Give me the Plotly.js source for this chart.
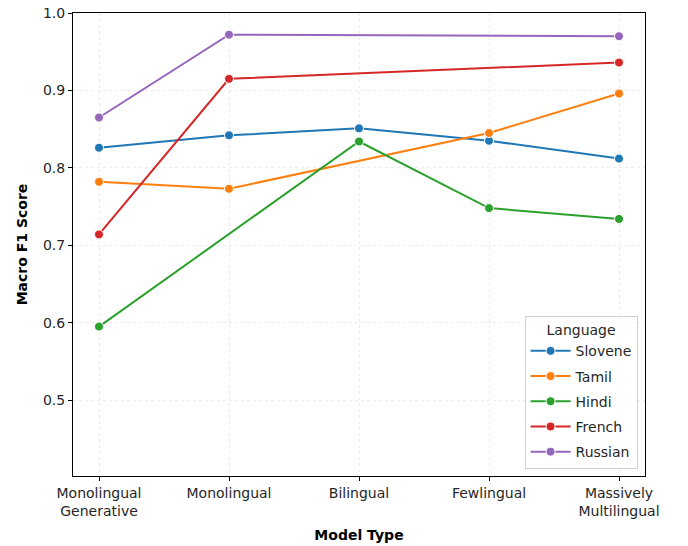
<!DOCTYPE html>
<html>
<head>
<meta charset="utf-8">
<script src="https://cdn.plot.ly/plotly-3.0.1.min.js"></script>
<style>html,body{margin:0;padding:0;background:#fff;}#chart{width:688px;height:546px;}</style>
</head>
<body>
<div id="chart"></div>
<script>
const categories = ["Monolingual Generative", "Monolingual", "Bilingual", "Fewlingual", "Massively Multilingual"];
const tickLabels = ["Monolingual<br>Generative", "Monolingual", "Bilingual", "Fewlingual", "Massively<br>Multilingual"];
const languages = ["Slovene", "Tamil", "Hindi", "French", "Russian"];
const slovene = [0.826, 0.842, 0.851, 0.835, 0.812];
const tamil   = [0.782, 0.773, null, 0.845, 0.896];
const hindi   = [0.595, null, 0.834, 0.748, 0.734];
const french  = [0.714, 0.915, null, null, 0.936];
const russian = [0.865, 0.972, null, null, 0.970];
const seriesValues = [slovene, tamil, hindi, french, russian];
const colors = ["#1f77b4", "#ff7f0e", "#2ca02c", "#d62728", "#9467bd"];
const yTicks = [0.5, 0.6, 0.7, 0.8, 0.9, 1.0];

const xIdx = categories.map((c, i) => i);
const traces = languages.map((name, k) => ({
  type: "scatter",
  mode: "lines+markers",
  name: name,
  legendgroup: name,
  x: xIdx,
  y: seriesValues[k],
  connectgaps: true,
  line: {color: colors[k], width: 2},
  marker: {color: colors[k], size: 9, line: {color: "#fff", width: 1}}
}));

const ff = "DejaVu Sans, sans-serif";
const layout = {
  width: 688, height: 546,
  margin: {l: 73, r: 43, t: 13, b: 70},
  paper_bgcolor: "#fff", plot_bgcolor: "#fff",
  font: {family: ff, size: 14, color: "#262626"},
  showlegend: true,
  xaxis: {
    range: [-0.2, 4.2],
    tickmode: "array", tickvals: xIdx, ticktext: tickLabels,
    showgrid: true, gridcolor: "#ececec", griddash: "dot", gridwidth: 1,
    showline: true, linecolor: "#000", linewidth: 1, mirror: true,
    ticks: "outside", ticklen: 4, tickcolor: "#000",
    zeroline: false,
    tickfont: {family: ff, size: 14, color: "#262626"},
    title: {text: "<b>Model Type</b>", font: {family: ff, size: 14, color: "#000"}, standoff: 12}
  },
  yaxis: {
    range: [0.402, 1.0],
    tickmode: "array", tickvals: yTicks, ticktext: yTicks.map(v => v.toFixed(1)),
    showgrid: true, gridcolor: "#ececec", griddash: "dot", gridwidth: 1,
    showline: true, linecolor: "#000", linewidth: 1, mirror: true,
    ticks: "outside", ticklen: 4, tickcolor: "#000",
    zeroline: false,
    tickfont: {family: ff, size: 14, color: "#262626"},
    title: {text: "<b>Macro F1 Score</b>", font: {family: ff, size: 14, color: "#000"}, standoff: 12}
  },
  legend: {
    x: 0.987, y: 0.015, xanchor: "right", yanchor: "bottom",
    bgcolor: "rgba(255,255,255,0.8)", bordercolor: "#d0d0d0", borderwidth: 1,
    title: {text: "Language", side: "top center", font: {family: ff, size: 14, color: "#262626"}},
    font: {family: ff, size: 14, color: "#262626"},
    traceorder: "grouped", tracegroupgap: 4,
    itemwidth: 40
  }
};
Plotly.newPlot("chart", traces, layout, {displayModeBar: false, staticPlot: true});
</script>
</body>
</html>
